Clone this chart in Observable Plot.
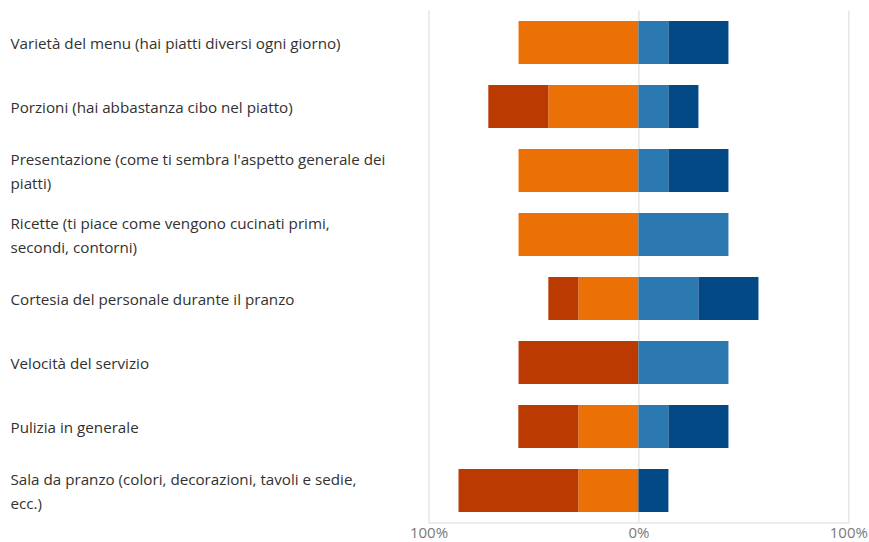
<!DOCTYPE html>
<html>
<head>
<meta charset="utf-8">
<script src="https://cdn.jsdelivr.net/npm/d3@7"></script>
<script src="https://cdn.jsdelivr.net/npm/@observablehq/plot@0.6"></script>
<style>
  html, body { margin: 0; padding: 0; background: #fff; }
  #chart { width: 869px; height: 542px; }
</style>
</head>
<body>
<div id="chart"></div>
<script>
const categories = [
  "Varietà del menu (hai piatti diversi ogni giorno)",
  "Porzioni (hai abbastanza cibo nel piatto)",
  "Presentazione (come ti sembra l'aspetto generale dei\npiatti)",
  "Ricette (ti piace come vengono cucinati primi,\nsecondi, contorni)",
  "Cortesia del personale durante il pranzo",
  "Velocità del servizio",
  "Pulizia in generale",
  "Sala da pranzo (colori, decorazioni, tavoli e sedie,\necc.)"
];
const series = ["Insoddisfatto", "Molto insoddisfatto", "Soddisfatto", "Molto soddisfatto"];
const colors = ["#EB7005", "#BA3A02", "#2C79B1", "#034985"];
// percentages (negative = dissatisfied side)
const insoddisfatto      = [-57.1, -42.9, -57.1, -57.1, -28.6,   0.0, -28.6, -28.6];
const moltoInsoddisfatto = [  0.0, -28.6,   0.0,   0.0, -14.3, -57.1, -28.6, -57.1];
const soddisfatto        = [ 14.3,  14.3,  14.3,  42.9,  28.6,  42.9,  14.3,   0.0];
const moltoSoddisfatto   = [ 28.6,  14.3,  28.6,   0.0,  28.6,   0.0,  28.6,  14.3];
const xTicks = [-100, 0, 100];

const valuesBySeries = [insoddisfatto, moltoInsoddisfatto, soddisfatto, moltoSoddisfatto];
const data = [];
series.forEach((s, si) => {
  categories.forEach((c, ci) => {
    const v = valuesBySeries[si][ci];
    if (v !== 0) data.push({category: c, series: s, value: v});
  });
});

const plot = Plot.plot({
  width: 869,
  height: 542,
  marginLeft: 428.5,
  marginRight: 20.7,
  marginTop: 10.5,
  marginBottom: 19.5,
  style: {fontFamily: "'Segoe UI', 'Open Sans', sans-serif", background: "#fff"},
  x: {domain: [-100, 100], axis: null, label: null},
  y: {domain: categories, paddingInner: 0.33, paddingOuter: 0.164, axis: null},
  color: {domain: series, range: colors},
  marks: [
    Plot.ruleX(xTicks, {stroke: "#e6e6e6", strokeWidth: 1.5}),
    Plot.frame({anchor: "bottom", stroke: "#e6e6e6", strokeWidth: 1.5}),
    Plot.barX(data, Plot.stackX({
      x: "value", y: "category", fill: "series", order: series
    })),
    Plot.ruleX(categories, {x: 0, y: d => d, stroke: "white", strokeWidth: 1.5}),
    Plot.text(categories, {
      y: d => d, text: d => d, frameAnchor: "left", textAnchor: "start",
      dx: -418.5, dy: -2, fontSize: 15.2, lineHeight: 1.58, fill: "#323130"
    }),
    Plot.axisX(xTicks, {
      tickFormat: d => Math.abs(d) + "%", tickSize: 0, tickPadding: 4,
      fontSize: 15, color: "#7a7a7a", label: null
    })
  ]
});
document.getElementById("chart").appendChild(plot);
</script>
</body>
</html>
